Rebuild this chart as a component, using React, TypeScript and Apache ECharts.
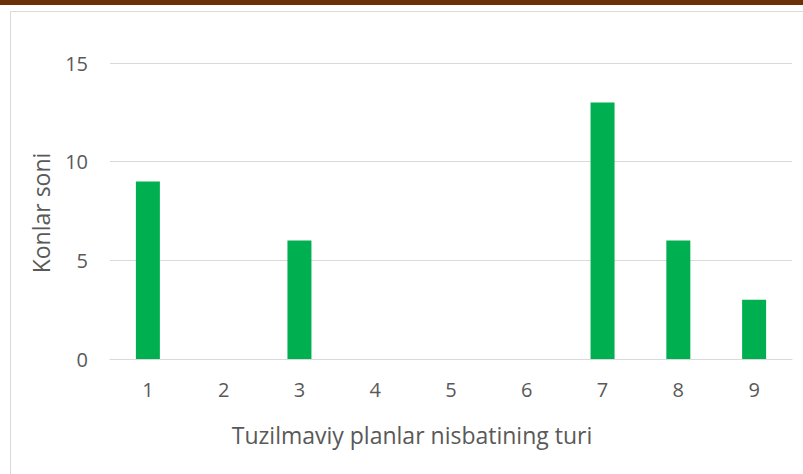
import React, { useEffect, useRef } from "react";
import * as echarts from "echarts";

const categories = ["1", "2", "3", "4", "5", "6", "7", "8", "9"];
const counts = [9, 0, 6, 0, 0, 0, 13, 6, 3];
const yTicks = { min: 0, max: 15, interval: 5 };
const xTitle = "Tuzilmaviy planlar nisbatining turi";
const yTitle = "Konlar soni";

const FONT = "'Open Sans', 'Noto Sans', sans-serif";
const TEXT = "#595959";

export default function App() {
  const ref = useRef<HTMLDivElement>(null);
  useEffect(() => {
    document.body.style.margin = "0";
    const chart = echarts.init(ref.current!, null, { renderer: "svg" });
    chart.setOption({
      animation: false,
      backgroundColor: "#ffffff",
      grid: { left: 110, right: 11, top: 63, bottom: 115, containLabel: false },
      xAxis: {
        type: "category",
        data: categories,
        axisLine: { show: true, lineStyle: { color: "#D9D9D9", width: 1 } },
        axisTick: { show: false },
        axisLabel: { color: TEXT, fontSize: 20, fontFamily: FONT, margin: 20 },
      },
      yAxis: {
        type: "value",
        min: yTicks.min,
        max: yTicks.max,
        interval: yTicks.interval,
        axisLine: { show: false },
        axisTick: { show: false },
        splitLine: { lineStyle: { color: "#D9D9D9", width: 1 } },
        axisLabel: { color: TEXT, fontSize: 20, fontFamily: FONT, margin: 22 },
      },
      series: [
        {
          type: "bar",
          data: counts,
          barWidth: 24,
          itemStyle: { color: "#00B050" },
        },
      ],
      graphic: [
        {
          type: "rect",
          shape: { x: 0, y: 0, width: 803, height: 5 },
          style: { fill: "#6B3208" },
          z: 10,
        },
        {
          type: "rect",
          shape: { x: 10.5, y: 11.5, width: 800, height: 470 },
          style: { fill: "none", stroke: "#D9D9D9", lineWidth: 1 },
          z: 10,
        },
        {
          type: "text",
          x: 412,
          y: 435,
          style: {
            text: xTitle,
            fill: TEXT,
            fontSize: 23,
            fontFamily: FONT,
            align: "center",
            verticalAlign: "middle",
          },
        },
        {
          type: "text",
          x: 41,
          y: 213,
          rotation: Math.PI / 2,
          style: {
            text: yTitle,
            fill: TEXT,
            fontSize: 23,
            fontFamily: FONT,
            align: "center",
            verticalAlign: "middle",
          },
        },
      ],
    });
    return () => chart.dispose();
  }, []);
  return <div ref={ref} style={{ width: 803, height: 474 }} />;
}
